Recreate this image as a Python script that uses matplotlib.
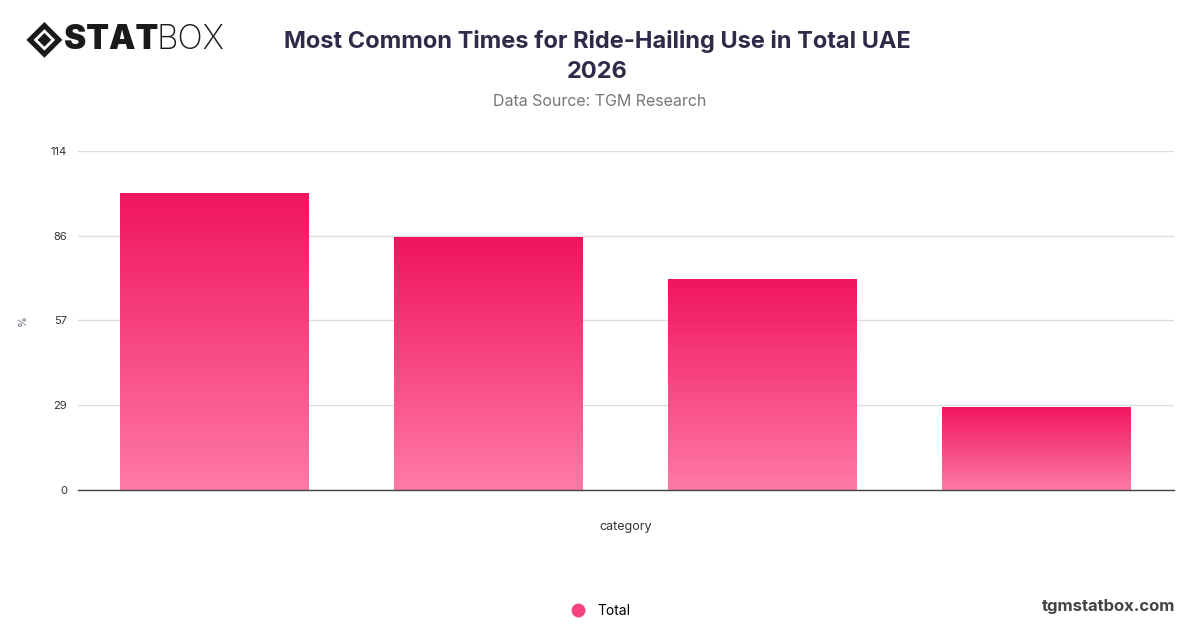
"""
Most Common Times for Ride-Hailing Use in Total UAE 2026 - bar chart recreation
"""
import numpy as np
import matplotlib
matplotlib.use('Agg')
import matplotlib.pyplot as plt
from matplotlib.colors import LinearSegmentedColormap
from matplotlib.patches import Polygon
from matplotlib.lines import Line2D

plt.rcParams['font.family'] = ['Inter', 'DejaVu Sans']

# data
categories = ['A', 'B', 'C', 'D']
values = [100, 85, 71, 28]
tick_values = [0, 28.5, 57, 85.5, 114]
tick_labels = ['0', '29', '57', '86', '114']

TOP_COLOR = '#f0145f'
BOTTOM_COLOR = '#ff7aa8'
grad_cmap = LinearSegmentedColormap.from_list('pinkgrad', [BOTTOM_COLOR, TOP_COLOR])

fig = plt.figure(figsize=(12, 6.28), dpi=100)
ax = fig.add_axes([0.065, 0.2197, 0.913, 0.54])

x = np.arange(len(categories))
bars = ax.bar(x, values, width=0.69, color='none', edgecolor='none', zorder=3)

# gradient fill per bar
grad = np.linspace(0, 1, 256).reshape(-1, 1)
for bar in bars:
    x0, w, h = bar.get_x(), bar.get_width(), bar.get_height()
    im = ax.imshow(grad, extent=[x0, x0 + w, 0, h], origin='lower',
                   cmap=grad_cmap, aspect='auto', zorder=3)
    im.set_clip_path(bar)

ax.set_xlim(-0.5, len(categories) - 0.5)
ax.set_ylim(0, 114)
ax.set_yticks(tick_values)
ax.set_yticklabels(tick_labels, fontsize=8, color='#333333')
ax.set_xticks([])
ax.tick_params(axis='y', length=0, pad=8)
ax.grid(axis='y', color='#dddddd', linewidth=1, zorder=0)
for side in ['top', 'right', 'left']:
    ax.spines[side].set_visible(False)
ax.spines['bottom'].set_color('#444444')
ax.spines['bottom'].set_linewidth(1)
ax.spines['bottom'].set_zorder(4)

ax.set_xlabel('category', fontsize=9, color='#333333', labelpad=22)
ax.set_ylabel('%', fontsize=8, color='#666677')
ax.yaxis.set_label_coords(-0.046, 0.5)

# title and subtitle
fig.text(0.498, 0.934, 'Most Common Times for Ride-Hailing Use in Total UAE',
         ha='center', va='center', fontsize=17, fontweight='bold', color='#2e2b48')
fig.text(0.498, 0.886, '2026', ha='center', va='center', fontsize=17,
         fontweight='bold', color='#2e2b48')
fig.text(0.5, 0.838, 'Data Source: TGM Research', ha='center', va='center',
         fontsize=11.5, color='#777777')

# logo
logo_ax = fig.add_axes([0.022, 0.908, 0.030, 0.057])
logo_ax.set_xlim(-1, 1)
logo_ax.set_ylim(-1, 1)
logo_ax.axis('off')
logo_ax.add_patch(Polygon([[0, 1], [1, 0], [0, -1], [-1, 0]], closed=True,
                          facecolor='#1a1a1a', edgecolor='none'))
logo_ax.add_patch(Polygon([[0, 0.6], [0.6, 0], [0, -0.6], [-0.6, 0]], closed=True,
                          facecolor='white', edgecolor='none'))
logo_ax.add_patch(Polygon([[0, 0.38], [0.38, 0], [0, -0.38], [-0.38, 0]], closed=True,
                          facecolor='#1a1a1a', edgecolor='none'))
fig.text(0.053, 0.937, 'STAT', ha='left', va='center', fontsize=24,
         fontweight='black', color='#1a1a1a')
fig.text(0.130, 0.937, 'BOX', ha='left', va='center', fontsize=24,
         fontweight='light', color='#1a1a1a')

# legend
handle = Line2D([], [], marker='o', linestyle='none', markersize=10,
                markerfacecolor='#f6437f', markeredgecolor='none')
fig.legend([handle], ['Total'], loc='center', bbox_to_anchor=(0.498, 0.027),
           frameon=False, fontsize=10, handletextpad=0.4)

# footer
fig.text(0.979, 0.035, 'tgmstatbox.com', ha='right', va='center', fontsize=12,
         fontweight='bold', color='#444444')

fig.savefig('out.png', dpi=100)
